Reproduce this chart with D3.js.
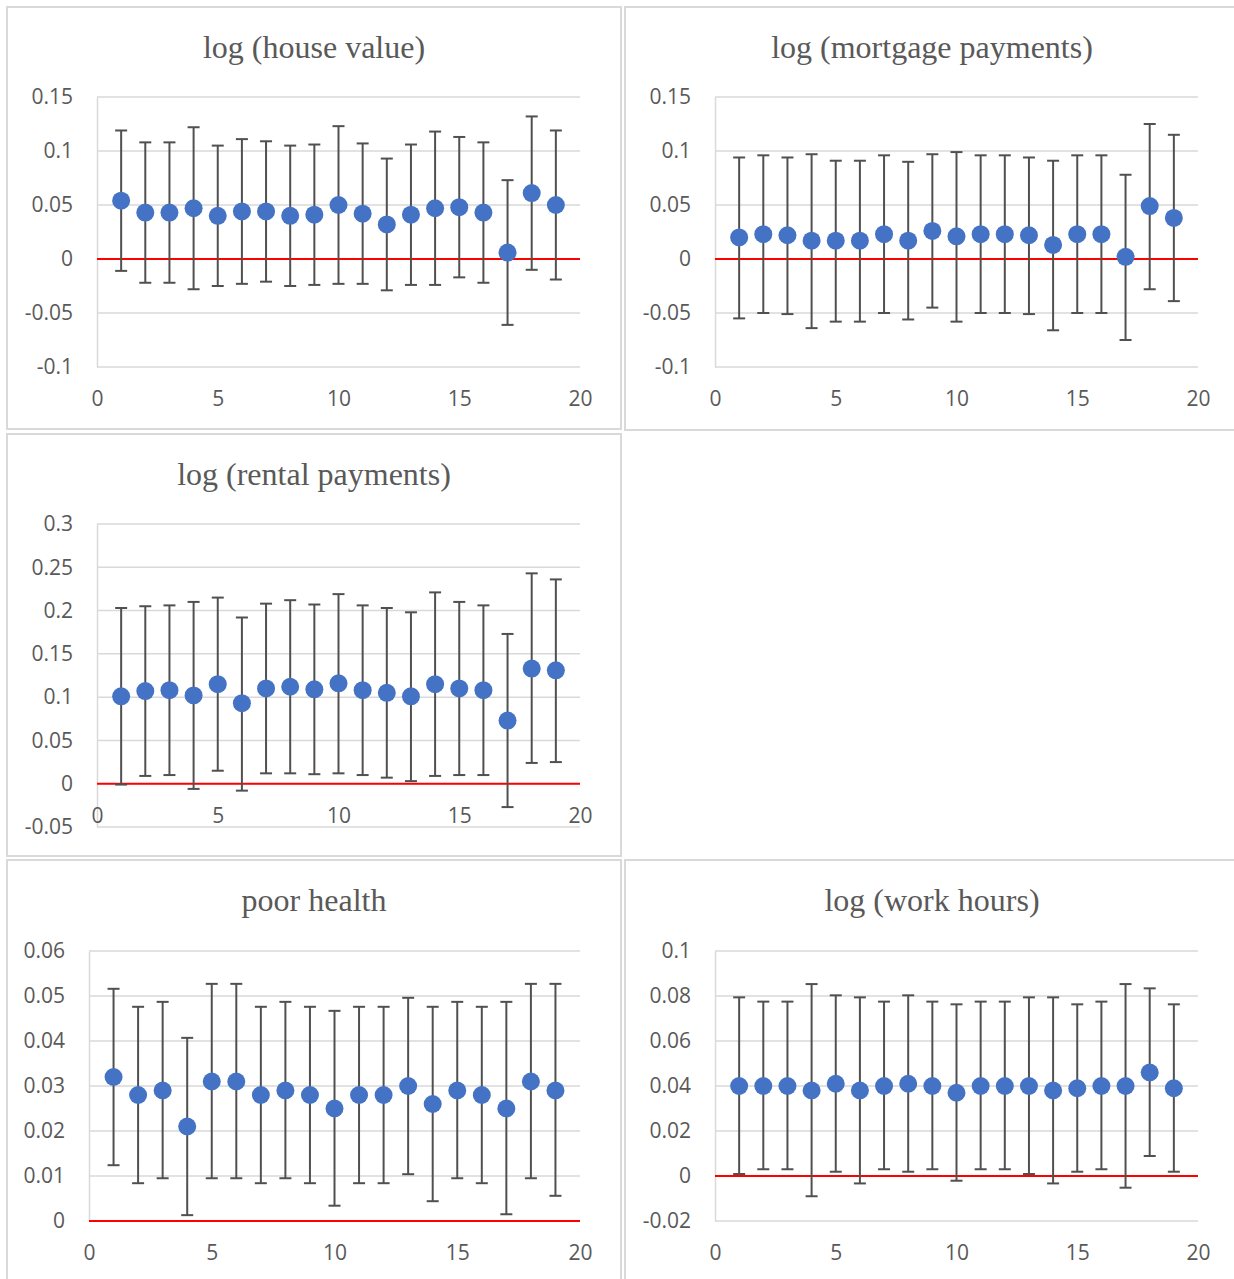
<!DOCTYPE html>
<html>
<head>
<meta charset="utf-8">
<script src="https://cdn.jsdelivr.net/npm/d3@7"></script>
<style>
  body { margin: 0; background: #fff; }
  svg { display: block; }
</style>
</head>
<body>
<svg width="1234" height="1279"></svg>
<script>
// periods on the x axis
const periods = [1, 2, 3, 4, 5, 6, 7, 8, 9, 10, 11, 12, 13, 14, 15, 16, 17, 18, 19];
const xTicks = [0, 5, 10, 15, 20];

// log (house value)
const houseEst = [0.054, 0.043, 0.043, 0.047, 0.040, 0.044, 0.044, 0.040, 0.041, 0.050, 0.042, 0.032, 0.041, 0.047, 0.048, 0.043, 0.006, 0.061, 0.050];
const houseLo  = [-0.011, -0.022, -0.022, -0.028, -0.025, -0.023, -0.021, -0.025, -0.024, -0.023, -0.023, -0.029, -0.024, -0.024, -0.017, -0.022, -0.061, -0.010, -0.019];
const houseHi  = [0.119, 0.108, 0.108, 0.122, 0.105, 0.111, 0.109, 0.105, 0.106, 0.123, 0.107, 0.093, 0.106, 0.118, 0.113, 0.108, 0.073, 0.132, 0.119];
const houseTicks = [-0.1, -0.05, 0, 0.05, 0.1, 0.15];

// log (mortgage payments)
const mortEst = [0.020, 0.023, 0.022, 0.017, 0.017, 0.017, 0.023, 0.017, 0.026, 0.021, 0.023, 0.023, 0.022, 0.013, 0.023, 0.023, 0.002, 0.049, 0.038];
const mortLo  = [-0.055, -0.050, -0.051, -0.064, -0.058, -0.058, -0.050, -0.056, -0.045, -0.058, -0.050, -0.050, -0.051, -0.066, -0.050, -0.050, -0.075, -0.028, -0.039];
const mortHi  = [0.094, 0.096, 0.094, 0.097, 0.091, 0.091, 0.096, 0.090, 0.097, 0.099, 0.096, 0.096, 0.094, 0.091, 0.096, 0.096, 0.078, 0.125, 0.115];
const mortTicks = [-0.1, -0.05, 0, 0.05, 0.1, 0.15];

// log (rental payments)
const rentEst = [0.101, 0.107, 0.108, 0.102, 0.115, 0.093, 0.110, 0.112, 0.109, 0.116, 0.108, 0.105, 0.101, 0.115, 0.110, 0.108, 0.073, 0.133, 0.131];
const rentLo  = [-0.001, 0.009, 0.010, -0.006, 0.015, -0.008, 0.012, 0.012, 0.011, 0.012, 0.010, 0.007, 0.003, 0.009, 0.010, 0.010, -0.027, 0.024, 0.025];
const rentHi  = [0.203, 0.205, 0.206, 0.210, 0.215, 0.192, 0.208, 0.212, 0.207, 0.219, 0.206, 0.203, 0.198, 0.221, 0.210, 0.206, 0.173, 0.243, 0.236];
const rentTicks = [-0.05, 0, 0.05, 0.1, 0.15, 0.2, 0.25, 0.3];

// poor health
const healthEst = [0.032, 0.028, 0.029, 0.021, 0.031, 0.031, 0.028, 0.029, 0.028, 0.025, 0.028, 0.028, 0.030, 0.026, 0.029, 0.028, 0.025, 0.031, 0.029];
const healthLo  = [0.0124, 0.0084, 0.0095, 0.0013, 0.0095, 0.0095, 0.0084, 0.0095, 0.0084, 0.0034, 0.0084, 0.0084, 0.0104, 0.0044, 0.0095, 0.0084, 0.0015, 0.0095, 0.0056];
const healthHi  = [0.0516, 0.0476, 0.0487, 0.0407, 0.0527, 0.0527, 0.0476, 0.0487, 0.0476, 0.0467, 0.0476, 0.0476, 0.0496, 0.0476, 0.0487, 0.0476, 0.0487, 0.0527, 0.0527];
const healthTicks = [0, 0.01, 0.02, 0.03, 0.04, 0.05, 0.06];

// log (work hours)
const workEst = [0.040, 0.040, 0.040, 0.038, 0.041, 0.038, 0.040, 0.041, 0.040, 0.037, 0.040, 0.040, 0.040, 0.038, 0.039, 0.040, 0.040, 0.046, 0.039];
const workLo  = [0.0009, 0.003, 0.003, -0.009, 0.0019, -0.0033, 0.003, 0.0019, 0.003, -0.0021, 0.003, 0.003, 0.0009, -0.0033, 0.0019, 0.003, -0.0052, 0.0089, 0.0019];
const workHi  = [0.0794, 0.0775, 0.0775, 0.0853, 0.0803, 0.0794, 0.0775, 0.0803, 0.0775, 0.0763, 0.0775, 0.0775, 0.0794, 0.0794, 0.0763, 0.0775, 0.0853, 0.0834, 0.0763];
const workTicks = [-0.02, 0, 0.02, 0.04, 0.06, 0.08, 0.1];

// panel layout (frame box, plot box, title centre, where the x labels sit)
const panels = [
  { title: "log (house value)", est: houseEst, lo: houseLo, hi: houseHi, ticks: houseTicks,
    frame: [7, 7, 621, 429], plot: [97, 97, 580, 367], titleX: 314, xLabelAt: -0.1 },
  { title: "log (mortgage payments)", est: mortEst, lo: mortLo, hi: mortHi, ticks: mortTicks,
    frame: [625, 7, 1240, 430], plot: [715, 97, 1198, 367], titleX: 932, xLabelAt: -0.1 },
  { title: "log (rental payments)", est: rentEst, lo: rentLo, hi: rentHi, ticks: rentTicks,
    frame: [7, 434, 621, 856], plot: [97, 524, 580, 827], titleX: 314, xLabelAt: 0 },
  { title: "poor health", est: healthEst, lo: healthLo, hi: healthHi, ticks: healthTicks,
    frame: [7, 860, 621, 1290], plot: [89, 951, 580, 1221], titleX: 314, xLabelAt: 0 },
  { title: "log (work hours)", est: workEst, lo: workLo, hi: workHi, ticks: workTicks,
    frame: [625, 860, 1240, 1290], plot: [715, 951, 1198, 1221], titleX: 932, xLabelAt: -0.02 }
];

const svg = d3.select("svg");
const fmt = d => String(+d.toFixed(3));

panels.forEach(p => {
  const g = svg.append("g");
  const [fx0, fy0, fx1, fy1] = p.frame;
  const [px0, py0, px1, py1] = p.plot;

  g.append("rect")
    .attr("x", fx0).attr("y", fy0)
    .attr("width", fx1 - fx0).attr("height", fy1 - fy0)
    .attr("fill", "#fff").attr("stroke", "#d9d9d9").attr("stroke-width", 2);

  const x = d3.scaleLinear().domain([0, 20]).range([px0, px1]);
  const y = d3.scaleLinear().domain(d3.extent(p.ticks)).range([py1, py0]);

  // title
  g.append("text")
    .attr("x", p.titleX)
    .attr("y", fy0 + 51)
    .attr("text-anchor", "middle")
    .attr("font-family", "'Liberation Serif', 'Times New Roman', serif")
    .attr("font-size", 32)
    .attr("fill", "#595959")
    .text(p.title);

  // gridlines
  g.selectAll(".grid").data(p.ticks).join("line")
    .attr("x1", px0).attr("x2", px1)
    .attr("y1", d => y(d)).attr("y2", d => y(d))
    .attr("stroke", "#d9d9d9").attr("stroke-width", 1.5);

  // y axis
  const yAxis = d3.axisLeft(y).tickValues(p.ticks).tickFormat(fmt).tickSize(0).tickPadding(24);
  const ya = g.append("g").attr("transform", `translate(${px0},0)`).call(yAxis);
  ya.select(".domain").attr("stroke", "#d9d9d9").attr("stroke-width", 1.5);
  ya.selectAll("text")
    .attr("font-family", "'Open Sans', sans-serif").attr("font-size", 21).attr("fill", "#595959");

  // x axis labels
  const xAxis = d3.axisBottom(x).tickValues(xTicks).tickSize(0).tickPadding(24);
  const xa = g.append("g").attr("transform", `translate(0,${y(p.xLabelAt)})`).call(xAxis);
  xa.select(".domain").remove();
  xa.selectAll("text")
    .attr("font-family", "'Open Sans', sans-serif").attr("font-size", 21).attr("fill", "#595959");

  // zero line
  g.append("line")
    .attr("x1", px0).attr("x2", px1)
    .attr("y1", y(0)).attr("y2", y(0))
    .attr("stroke", "#ff0000").attr("stroke-width", 2);

  // error bars
  const bars = g.append("g").attr("stroke", "#505050").attr("stroke-width", 2);
  periods.forEach((t, i) => {
    const cx = x(t);
    bars.append("line").attr("x1", cx).attr("x2", cx).attr("y1", y(p.lo[i])).attr("y2", y(p.hi[i]));
    bars.append("line").attr("x1", cx - 6).attr("x2", cx + 6).attr("y1", y(p.lo[i])).attr("y2", y(p.lo[i]));
    bars.append("line").attr("x1", cx - 6).attr("x2", cx + 6).attr("y1", y(p.hi[i])).attr("y2", y(p.hi[i]));
  });

  // point estimates
  g.selectAll(".pt").data(periods).join("circle")
    .attr("cx", d => x(d))
    .attr("cy", (d, i) => y(p.est[i]))
    .attr("r", 9)
    .attr("fill", "#4472c4");
});
</script>
</body>
</html>
